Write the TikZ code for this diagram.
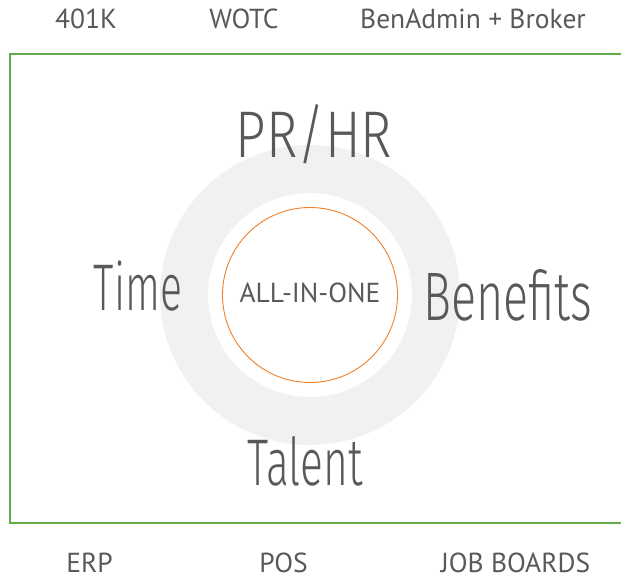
\documentclass[tikz,border=0pt]{standalone}
\usepackage{fontspec}
\setmainfont{PT Sans}
\newfontfamily\hand{Fira Sans}[UprightFont={* Light},FakeStretch=0.62]
\definecolor{txtgray}{HTML}{58595B}
\definecolor{ringgray}{HTML}{F0F1F1}
\definecolor{frame}{HTML}{62AD47}
\definecolor{orng}{HTML}{F07F2A}
\tikzset{
  side/.style={anchor=base,text=txtgray,font=\fontsize{27.5}{31}\selectfont,inner sep=0pt},
  handlabel/.style={anchor=base,text=txtgray,font=\hand\fontsize{66}{70}\selectfont,inner sep=0pt},
}
\begin{document}
\begin{tikzpicture}[x=1pt,y=-1pt]
\useasboundingbox (0,0) rectangle (621,577);
\draw[frame,line width=2.6pt] (10,54) rectangle (640,523);
\fill[ringgray,even odd rule] (310,295) circle[radius=150] (310,295) circle[radius=102];
\node[circle,draw=orng,line width=0.9pt,minimum size=175pt,inner sep=0pt] (core) at (310,295) {};
\node[side] (allinone) at (310,302) {ALL-IN-ONE};
\node[side] (k401) at (86,29) {401K};
\node[side] (wotc) at (244,29) {WOTC};
\node[side] (benadmin) at (473,29) {BenAdmin + Broker};
\node[side] (erp) at (89.5,572) {ERP};
\node[side] (pos) at (283.5,572) {POS};
\node[side] (jobs) at (515.5,572) {JOB BOARDS};
\node[handlabel] (prhr) at (314,158) {\scalebox{1.3}[1]{PR/HR}};
\node[handlabel] (time) at (138,310) {Time};
\node[handlabel] (benefits) at (508,320) {\scalebox{1.14}[1.04]{Benefits}};
\node[handlabel] (talent) at (305,485) {\scalebox{1.04}[1]{Talent}};
\end{tikzpicture}
\end{document}
